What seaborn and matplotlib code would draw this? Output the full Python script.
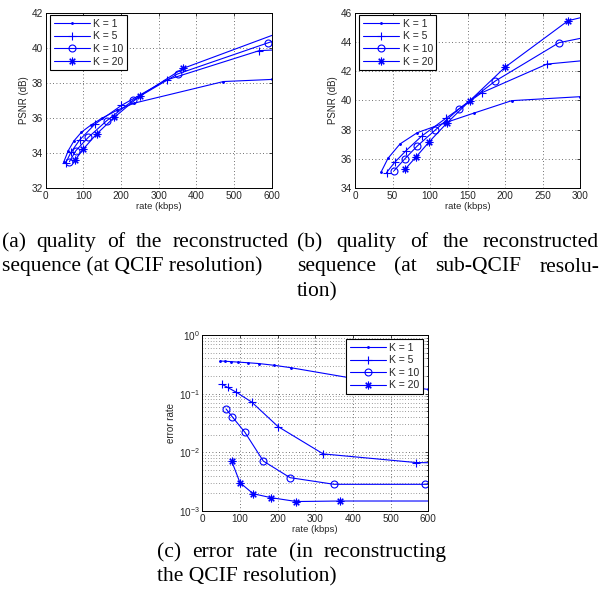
import matplotlib
matplotlib.use('Agg')
import matplotlib.pyplot as plt
from matplotlib.transforms import IdentityTransform
import seaborn as sns

# Données
k_labels = ['K = 1', 'K = 5', 'K = 10', 'K = 20']

# (a) PSNR, résolution QCIF
rate_a_k1 = [48, 60, 75, 95, 120, 150, 190, 235, 472, 600]
psnr_a_k1 = [33.5, 34.15, 34.7, 35.2, 35.6, 36.0, 36.45, 36.85, 38.08, 38.2]
rate_a_k5 = [53, 67, 90, 131, 201, 321, 567, 630]
psnr_a_k5 = [33.45, 34.05, 34.75, 35.66, 36.72, 38.17, 39.84, 39.9]
rate_a_k10 = [63, 80, 113, 162, 233, 350, 591, 640]
psnr_a_k10 = [33.52, 34.14, 34.9, 35.85, 37.03, 38.51, 40.29, 40.65]
rate_a_k20 = [78, 100, 135, 182, 250, 365, 640]
psnr_a_k20 = [33.61, 34.24, 35.09, 36.04, 37.26, 38.83, 41.02]

# (b) PSNR, résolution sub-QCIF
rate_b_k1 = [35, 44, 60, 83, 118, 158, 209, 300]
psnr_b_k1 = [35.13, 36.05, 37.03, 37.8, 38.44, 39.13, 39.99, 40.26]
rate_b_k5 = [42, 53, 68, 89, 121, 169, 256, 320]
psnr_b_k5 = [35.07, 35.78, 36.57, 37.57, 38.78, 40.53, 42.49, 42.8]
rate_b_k10 = [52, 66, 83, 107, 138, 187, 272, 320]
psnr_b_k10 = [35.2, 35.99, 36.89, 37.98, 39.4, 41.33, 43.95, 44.45]
rate_b_k20 = [67, 81, 99, 122, 153, 200, 284, 320]
psnr_b_k20 = [35.32, 36.12, 37.18, 38.43, 39.98, 42.27, 45.45, 45.9]

# (c) taux d'erreur
rate_c_k1 = [48, 60, 75, 95, 120, 150, 190, 235, 472, 600]
err_c_k1 = [0.36, 0.357, 0.352, 0.345, 0.337, 0.326, 0.305, 0.277, 0.152, 0.118]
rate_c_k5 = [53, 67, 90, 131, 201, 321, 567, 630]
err_c_k5 = [0.144, 0.128, 0.106, 0.072, 0.0275, 0.0094, 0.0067, 0.0066]
rate_c_k10 = [63, 80, 113, 162, 233, 350, 591, 640]
err_c_k10 = [0.055, 0.040, 0.022, 0.0071, 0.0037, 0.00285, 0.00285, 0.00285]
rate_c_k20 = [78, 100, 135, 182, 250, 365, 640]
err_c_k20 = [0.0071, 0.00304, 0.00197, 0.00169, 0.00145, 0.00148, 0.00148]

sns.set_theme(style='white')
plt.rcParams['font.family'] = ['Liberation Sans', 'DejaVu Sans']
plt.rcParams['xtick.direction'] = 'in'
plt.rcParams['ytick.direction'] = 'in'

W, H = 600, 596
fig = plt.figure(figsize=(W / 100, H / 100), dpi=100)


def px_axes(x0, y0, x1, y1):
    # coordonnées en pixels de l'image (origine en haut à gauche)
    return fig.add_axes([x0 / W, 1 - y1 / H, (x1 - x0) / W, (y1 - y0) / H])


# style des marqueurs (façon MATLAB)
marker_styles = [
    dict(marker='.', markersize=2.5, markerfacecolor='blue'),
    dict(marker='+', markersize=5.5, markerfacecolor='blue'),
    dict(marker='o', markersize=5, markerfacecolor='none'),
    dict(marker=(8, 2, 0), markersize=5.5, markerfacecolor='blue'),
]


def draw_panel(ax, series, ylabel, legend_loc, legend_anchor):
    for label, (x, y), mstyle in zip(k_labels, series, marker_styles):
        sns.lineplot(x=x, y=y, ax=ax, color='blue', linewidth=0.8,
                     markeredgecolor='blue', markeredgewidth=0.8,
                     sort=False, estimator=None, label=label, **mstyle)
    ax.set_xlabel('rate (kbps)', fontsize=6.8, labelpad=1)
    ax.set_ylabel(ylabel, fontsize=7, labelpad=2)
    ax.tick_params(labelsize=7.2, length=2.5, width=0.6, top=True, right=True, pad=2)
    ax.tick_params(which='minor', length=1.5, width=0.5, top=True, right=True)
    ax.grid(True, linestyle=(0, (1, 3)), color='0.25', linewidth=0.6)
    for s in ax.spines.values():
        s.set_color('black')
        s.set_linewidth(0.7)
    leg = ax.legend(loc=legend_loc, bbox_to_anchor=legend_anchor, borderaxespad=0,
                    fontsize=7.5, handlelength=3.5, handletextpad=0.3,
                    labelspacing=0.25, borderpad=0.35, frameon=True, fancybox=False,
                    framealpha=1)
    leg.get_frame().set_edgecolor('black')
    leg.get_frame().set_linewidth(0.8)


# (a)
ax_a = px_axes(45.7, 12.7, 271.7, 188.3)
draw_panel(ax_a,
           [(rate_a_k1, psnr_a_k1), (rate_a_k5, psnr_a_k5),
            (rate_a_k10, psnr_a_k10), (rate_a_k20, psnr_a_k20)],
           'PSNR (dB)', 'upper left', (4.3 / 226, 1 - 2.5 / 175.6))
ax_a.set_xlim(0, 600)
ax_a.set_ylim(32, 42)
ax_a.set_xticks(range(0, 601, 100))
ax_a.set_yticks(range(32, 43, 2))

# (b)
ax_b = px_axes(355, 12.7, 580, 188.3)
draw_panel(ax_b,
           [(rate_b_k1, psnr_b_k1), (rate_b_k5, psnr_b_k5),
            (rate_b_k10, psnr_b_k10), (rate_b_k20, psnr_b_k20)],
           'PSNR (dB)', 'upper left', (4.3 / 225, 1 - 2.5 / 175.6))
ax_b.set_xlim(0, 300)
ax_b.set_ylim(34, 46)
ax_b.set_xticks(range(0, 301, 50))
ax_b.set_yticks(range(34, 47, 2))

# (c)
ax_c = px_axes(202.3, 335, 428.3, 511)
ax_c.set_yscale('log')
draw_panel(ax_c,
           [(rate_c_k1, err_c_k1), (rate_c_k5, err_c_k5),
            (rate_c_k10, err_c_k10), (rate_c_k20, err_c_k20)],
           'error rate', 'upper right', (1 - 5 / 226, 1 - 4 / 176))
ax_c.grid(True, which='minor', axis='y', linestyle=(0, (1, 3)), color='0.25', linewidth=0.5)
ax_c.set_xlim(0, 600)
ax_c.set_ylim(1e-3, 1)
ax_c.set_xticks(range(0, 601, 100))


# légendes sous les graphes, texte justifié (dernière ligne alignée à gauche)
def put_caption(lines, x0, x1, y_base, line_h, size=15.5):
    renderer = fig.canvas.get_renderer()
    font = dict(fontsize=size, family='Liberation Serif', color='black')

    def width(s):
        t = fig.text(0, 0, s, transform=IdentityTransform(), **font)
        w = t.get_window_extent(renderer).width
        t.remove()
        return w

    for i, line in enumerate(lines):
        y = H - (y_base + i * line_h)
        words = line.split()
        if i == len(lines) - 1 or len(words) == 1:
            fig.text(x0, y, line, transform=IdentityTransform(), va='baseline', **font)
            continue
        widths = [width(w) for w in words]
        gap = (x1 - x0 - sum(widths)) / (len(words) - 1)
        x = x0
        for w, wd in zip(words, widths):
            fig.text(x, y, w, transform=IdentityTransform(), va='baseline', **font)
            x += wd + gap


put_caption(['(a) quality of the reconstructed', 'sequence (at QCIF resolution)'],
            2, 289, 247, 24.5)
put_caption(['(b) quality of the reconstructed', 'sequence (at sub-QCIF resolu-', 'tion)'],
            297, 599, 247, 24.5)
put_caption(['(c) error rate (in reconstructing', 'the QCIF resolution)'],
            157, 447, 557, 24.5)

fig.savefig('out.png', dpi=100, facecolor='white')
